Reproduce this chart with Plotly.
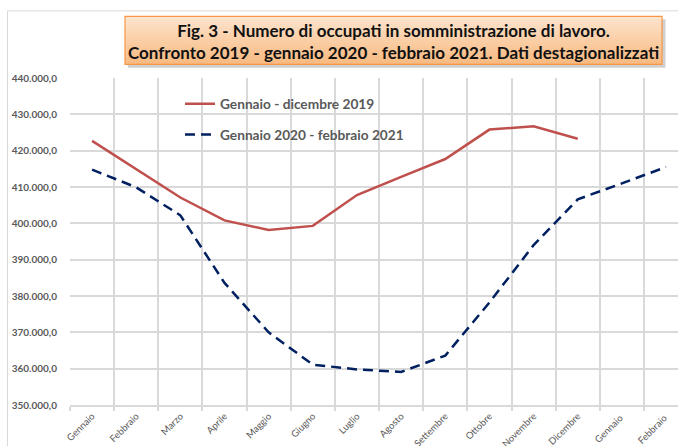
import plotly.graph_objects as go

# ---- data ----
months = ["Gennaio", "Febbraio", "Marzo", "Aprile", "Maggio", "Giugno", "Luglio",
          "Agosto", "Settembre", "Ottobre", "Novembre", "Dicembre", "Gennaio ", "Febbraio "]
series_2019 = [422700, 415000, 407100, 400800, 398200, 399300, 407800,
               412800, 417700, 425800, 426700, 423300]
series_2020_21 = [414800, 409900, 402200, 383600, 370000, 361100, 359800,
                  359100, 363600, 378200, 394000, 406600, 411000, 415500]
name_2019 = "Gennaio - dicembre 2019"
name_2020 = "Gennaio 2020 - febbraio 2021"
title_text = ("Fig. 3 - Numero di occupati in somministrazione di lavoro.<br>"
              "Confronto 2019 - gennaio 2020 - febbraio 2021. Dati destagionalizzati")
y_ticks = [350000, 360000, 370000, 380000, 390000, 400000, 410000, 420000, 430000, 440000]

W, H = 678, 446
L, R, T, B = 70, 678, 77.7, 405

def px(x):
    return (x - L) / (R - L)

def py(y):
    return (B - y) / (B - T)

FONT = "Lato"
GRID = "#d9d9d9"
TXT = "#595959"

fig = go.Figure()
fig.add_trace(go.Scatter(
    x=months[:len(series_2019)], y=series_2019, mode="lines", name=name_2019,
    line=dict(color="#c0504d", width=2.5), legendgroup="a"))
fig.add_trace(go.Scatter(
    x=months, y=series_2020_21, mode="lines", name=name_2020,
    line=dict(color="#002060", width=2.5, dash="10px,6px"), legendgroup="b"))

shapes = []
# chart outer border (left/top visible)
shapes.append(dict(type="rect", xref="paper", yref="paper",
                   x0=px(7.5), x1=px(700), y0=py(470), y1=py(10.5),
                   line=dict(color="#d9d9d9", width=1), fillcolor="rgba(0,0,0,0)", layer="below"))
# title box shadow
shapes.append(dict(type="rect", xref="paper", yref="paper",
                   x0=px(128), x1=px(665.5), y0=py(67.5), y1=py(19),
                   line=dict(width=0), fillcolor="rgba(120,120,120,0.35)", layer="above"))
# gradient title box
x0b, x1b, y0b, y1b = 125, 662, 16, 64
n = 24
c_top = (253, 228, 205)
c_bot = (250, 185, 125)
for i in range(n):
    t = i / (n - 1)
    c = tuple(int(round(c_top[k] + (c_bot[k] - c_top[k]) * t)) for k in range(3))
    ya = y0b + (y1b - y0b) * i / n
    yb = y0b + (y1b - y0b) * (i + 1) / n
    shapes.append(dict(type="rect", xref="paper", yref="paper",
                       x0=px(x0b), x1=px(x1b), y0=py(yb + 0.3), y1=py(ya),
                       line=dict(width=0), fillcolor="rgb(%d,%d,%d)" % c, layer="above"))
shapes.append(dict(type="rect", xref="paper", yref="paper",
                   x0=px(x0b), x1=px(x1b), y0=py(y1b), y1=py(y0b),
                   line=dict(color="#f79646", width=1.2), fillcolor="rgba(0,0,0,0)", layer="above"))

fig.update_layout(
    width=W, height=H,
    margin=dict(l=L, r=W - R, t=T, b=H - B, pad=0, autoexpand=False),
    paper_bgcolor="white", plot_bgcolor="white",
    separators=",.",
    shapes=shapes,
    showlegend=True,
    legend=dict(x=px(180), y=py(88), xanchor="left", yanchor="top",
                bgcolor="rgba(0,0,0,0)", tracegroupgap=10,
                font=dict(family=FONT, size=13.7, color=TXT, weight="bold")),
    annotations=[dict(text=title_text, xref="paper", yref="paper",
                      x=px(393.5), y=py(41), xanchor="center", yanchor="middle",
                      showarrow=False, align="center",
                      font=dict(family=FONT, size=17, color="#111111", weight="bold"))],
)
fig.update_xaxes(
    type="category", categoryorder="array", categoryarray=months,
    range=[-0.5, -0.5 + (R - L) / 44.15],
    tickson="boundaries", ticks="outside", ticklen=4, tickcolor=GRID, tickwidth=2,
    showgrid=True, gridcolor=GRID, gridwidth=2,
    showline=True, linecolor=GRID, linewidth=2,
    tickangle=-45, tickfont=dict(family=FONT, size=9.5, color=TXT),
    zeroline=False, automargin=False,
)
fig.update_yaxes(
    range=[350000, 440000], tickvals=y_ticks, tickformat=",.1f",
    showgrid=True, gridcolor=GRID, gridwidth=2,
    showline=False, zeroline=False, ticks="",
    ticklabelstandoff=12, automargin=False,
    tickfont=dict(family=FONT, size=10, color=TXT, weight="bold"),
)

fig.write_html("out.html", config={"displayModeBar": False},
               post_script="document.body.style.margin='0';document.body.style.overflow='hidden';")
